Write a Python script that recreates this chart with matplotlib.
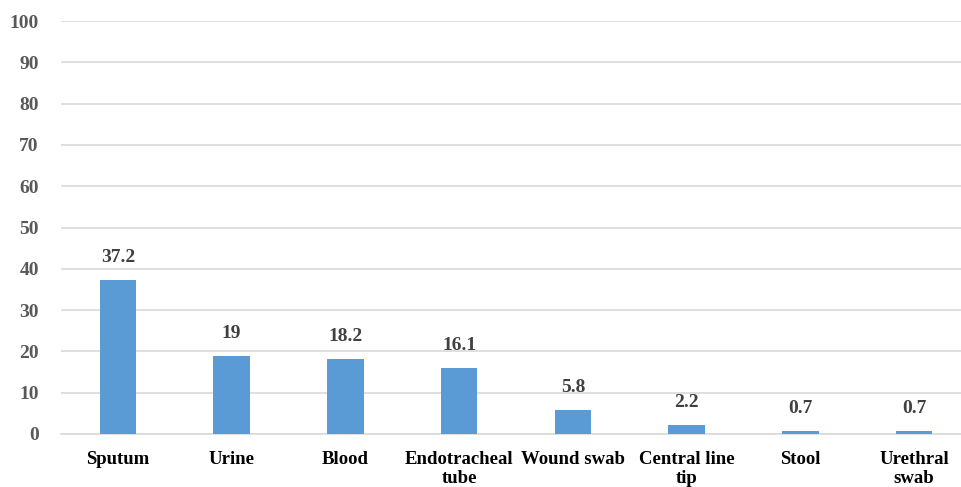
import matplotlib.pyplot as plt
import numpy as np

plt.rcParams['font.family'] = ['Liberation Serif', 'DejaVu Serif']
plt.rcParams['font.weight'] = 'bold'

sites = ["Sputum", "Urine", "Blood", "Endotracheal\ntube", "Wound swab",
         "Central line\ntip", "Stool", "Urethral\nswab"]
percent = [37.2, 19, 18.2, 16.1, 5.8, 2.2, 0.7, 0.7]
labels = ["37.2", "19", "18.2", "16.1", "5.8", "2.2", "0.7", "0.7"]

fig = plt.figure(figsize=(9.61, 4.87), dpi=100)
ax = fig.add_axes([61/961, 53/487, 910/961, 413/487])

x = np.arange(len(sites))
bars = ax.bar(x, percent, width=0.32, color="#5B9BD5", zorder=3)

for b, t in zip(bars, labels):
    ax.annotate(t, (b.get_x() + b.get_width()/2, b.get_height()),
                xytext=(0, 14), textcoords="offset pixels",
                ha="center", va="bottom", fontsize=14,
                fontweight="bold", color="#404040")

ax.set_xlim(-0.5, len(sites) - 0.5)
ax.set_ylim(0, 100)
ax.set_yticks(range(0, 101, 10))
ax.set_xticks(x)
ax.set_xticklabels(sites, fontsize=13.5, fontweight="bold", color="black",
                   linespacing=1.15)
ax.tick_params(axis="y", length=0, labelsize=14, labelcolor="#595959", pad=16)
ax.tick_params(axis="x", length=0, pad=12)
ax.grid(axis="y", color="#D9D9D9", linewidth=1.2, zorder=0)
for s in ["top", "right", "left"]:
    ax.spines[s].set_visible(False)
ax.spines["bottom"].set_color("#D9D9D9")
ax.spines["bottom"].set_linewidth(1.2)

fig.savefig("out.png", dpi=100)
